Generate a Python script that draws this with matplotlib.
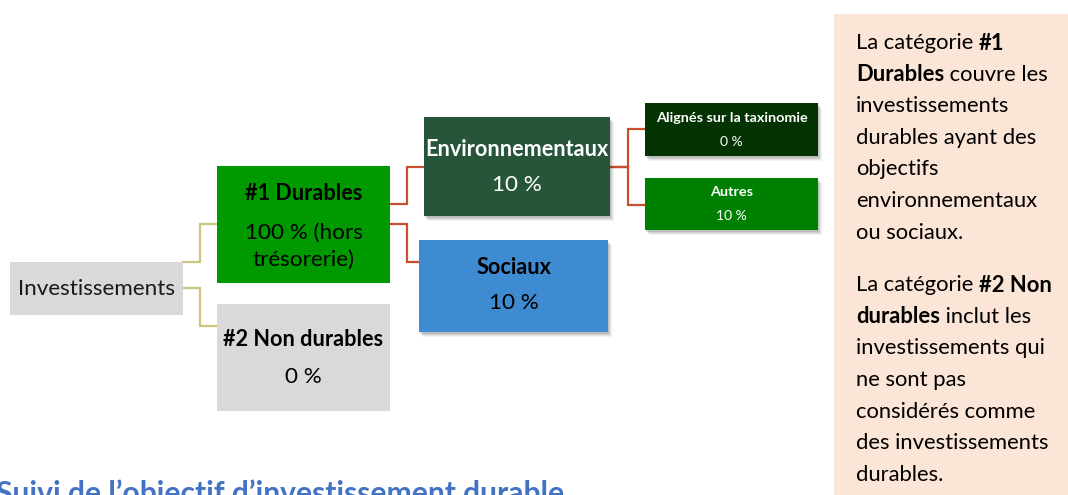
import matplotlib
matplotlib.use("Agg")
import matplotlib.pyplot as plt
from matplotlib.patches import Rectangle

FONT = "Lato"
plt.rcParams['font.family'] = [FONT, 'DejaVu Sans']

# ---- data ----
node_names = ["Investissements", "#1 Durables", "#2 Non durables",
              "Environnementaux", "Sociaux",
              "Alignés sur la taxinomie", "Autres"]
node_values = [None, "100 % (hors\ntrésorerie)", "0 %", "10 %", "10 %", "0 %", "10 %"]
edges = [(0, 1), (0, 2), (1, 3), (1, 4), (3, 5), (3, 6)]

note_lines = [
    [("La catégorie ", False), ("#1", True)],
    [("Durables", True), (" couvre les", False)],
    [("investissements", False)],
    [("durables ayant des", False)],
    [("objectifs", False)],
    [("environnementaux", False)],
    [("ou sociaux.", False)],
    None,
    [("La catégorie ", False), ("#2 Non", True)],
    [("durables", True), (" inclut les", False)],
    [("investissements qui", False)],
    [("ne sont pas", False)],
    [("considérés comme", False)],
    [("des investissements", False)],
    [("durables.", False)],
]
title = "Suivi de l’objectif d’investissement durable"

# ---- layout / style (pixel coordinates) ----
boxes = [  # x0, y0, x1, y1
    (10, 262, 183, 315),
    (217, 166, 390, 283),
    (217, 304, 390, 411),
    (424, 117, 610, 216),
    (419, 240, 608, 332),
    (645, 103, 818, 156),
    (645, 178, 818, 230),
]
colors = ["#d9d9d9", "#009900", "#d9d9d9", "#27553a", "#3f8bd2", "#023301", "#008000"]
txtcol = ["#1a1a1a", "#000000", "#000000", "#ffffff", "#000000", "#ffffff", "#ffffff"]
shadow = [False, False, False, True, True, True, True]
name_fs = [16.2, 15.6, 15.6, 15.6, 15.6, 10.4, 10.4]
val_fs = [16.2, 16.2, 16.2, 16.2, 16.2, 10.0, 10.0]
name_y = [289, 193, 340, 150, 268, 118, 192]
val_y = [None, 246, 377, 185, 303, 142, 216]
# connector: (start y, end y, elbow x)
conn = {
    (0, 1): (262, 224, 200, "#cdc57c"),
    (0, 2): (288, 326, 200, "#cdc57c"),
    (1, 3): (204, 167, 407, "#c4502f"),
    (1, 4): (224, 262, 407, "#c4502f"),
    (3, 5): (167, 129, 628, "#c4502f"),
    (3, 6): (167, 205, 628, "#c4502f"),
}

W, H = 1068, 495
fig = plt.figure(figsize=(W / 100, H / 100), dpi=100)
ax = fig.add_axes([0, 0, 1, 1])
ax.set_xlim(0, W)
ax.set_ylim(H, 0)
ax.axis("off")

# connectors
for (a, b) in edges:
    ys, ye, ex, c = conn[(a, b)]
    xs = boxes[a][2]
    xe = boxes[b][0]
    ax.plot([xs, ex, ex, xe], [ys, ys, ye, ye], color=c, lw=1.6,
            solid_joinstyle="miter", zorder=1)

# boxes
for i, (x0, y0, x1, y1) in enumerate(boxes):
    if shadow[i]:
        for d, al in [(5, 0.05), (4, 0.06), (3, 0.08), (2, 0.1)]:
            ax.add_patch(Rectangle((x0 + d - 1, y0 + d), x1 - x0, y1 - y0,
                                   facecolor="#000000", alpha=al, lw=0, zorder=2))
    ax.add_patch(Rectangle((x0, y0), x1 - x0, y1 - y0, facecolor=colors[i],
                           edgecolor="none", zorder=3))
    cx = (x0 + x1) / 2
    bold = i != 0
    ax.text(cx, name_y[i], node_names[i], ha="center", va="center",
            fontsize=name_fs[i], fontweight="bold" if bold else "normal",
            color=txtcol[i], zorder=4)
    if node_values[i] is not None:
        ax.text(cx, val_y[i], node_values[i], ha="center", va="center",
                fontsize=val_fs[i], color=txtcol[i], zorder=4,
                linespacing=1.45)

# note panel
ax.add_patch(Rectangle((834, 14), W - 834, H - 14, facecolor="#fbe5d6",
                       edgecolor="none", zorder=1))
fig.canvas.draw()
renderer = fig.canvas.get_renderer()
y = 43
for line in note_lines:
    if line is None:
        y += 21
        continue
    x = 856
    for s, b in line:
        t = ax.text(x, y, s, ha="left", va="center", fontsize=15.8,
                    fontweight="bold" if b else "normal", color="#000000", zorder=4)
        bb = t.get_window_extent(renderer=renderer)
        x += bb.width
    y += 31.6

# title (cut at bottom, as in the source)
ax.text(-4, 479, title, ha="left", va="top", fontsize=21.6, fontweight="bold",
        color="#4472c4", zorder=4)

fig.savefig("out.png", dpi=100)
